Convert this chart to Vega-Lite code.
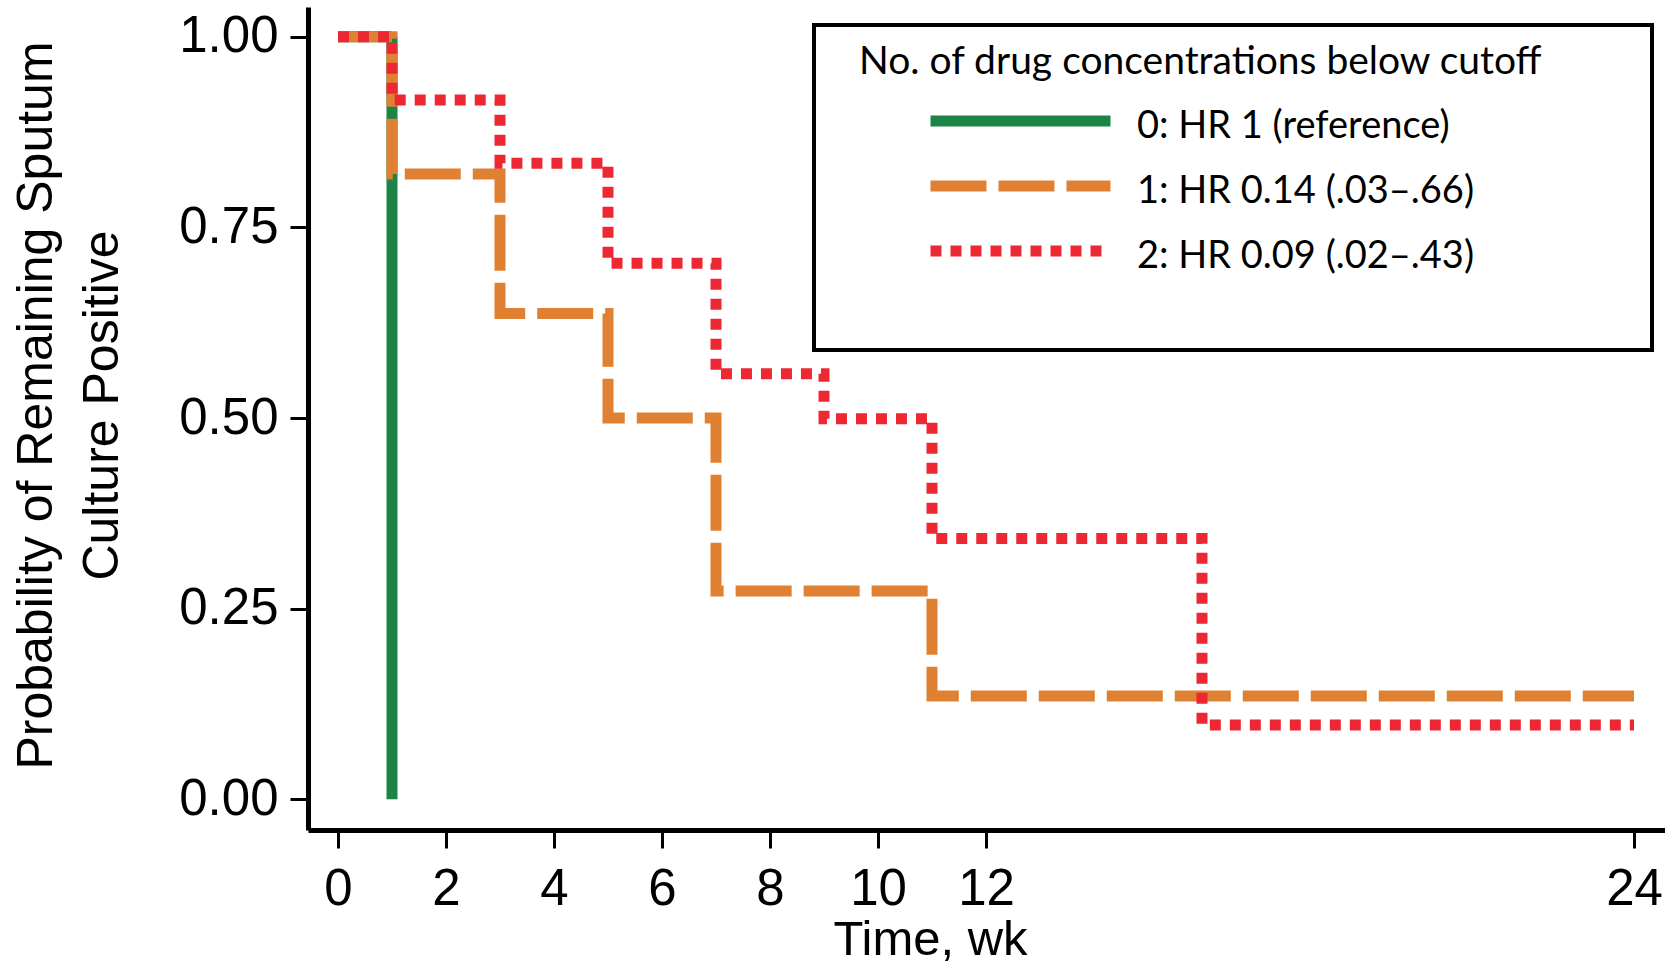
{
  "$schema": "https://vega.github.io/schema/vega-lite/v6.json",
  "width": 1357,
  "height": 823,
  "autosize": {"type": "none"},
  "padding": {"left": 308, "top": 7, "right": 0, "bottom": 134},
  "background": "white",
  "config": {"view": {"stroke": null}, "font": "Liberation Sans"},
  "data": {
    "values": [
      {"group": "0: HR 1 (reference)", "week": 0, "prob": 1},
      {"group": "0: HR 1 (reference)", "week": 1, "prob": 0},
      {"group": "1: HR 0.14 (.03–.66)", "week": 0, "prob": 1},
      {"group": "1: HR 0.14 (.03–.66)", "week": 1, "prob": 0.82},
      {"group": "1: HR 0.14 (.03–.66)", "week": 3, "prob": 0.637},
      {"group": "1: HR 0.14 (.03–.66)", "week": 5, "prob": 0.5},
      {"group": "1: HR 0.14 (.03–.66)", "week": 7, "prob": 0.273},
      {"group": "1: HR 0.14 (.03–.66)", "week": 11, "prob": 0.1355},
      {"group": "1: HR 0.14 (.03–.66)", "week": 24, "prob": 0.1355},
      {"group": "2: HR 0.09 (.02–.43)", "week": 0, "prob": 1},
      {"group": "2: HR 0.09 (.02–.43)", "week": 1, "prob": 0.917},
      {"group": "2: HR 0.09 (.02–.43)", "week": 3, "prob": 0.834},
      {"group": "2: HR 0.09 (.02–.43)", "week": 5, "prob": 0.703},
      {"group": "2: HR 0.09 (.02–.43)", "week": 7, "prob": 0.558},
      {"group": "2: HR 0.09 (.02–.43)", "week": 9, "prob": 0.499},
      {"group": "2: HR 0.09 (.02–.43)", "week": 11, "prob": 0.342},
      {"group": "2: HR 0.09 (.02–.43)", "week": 16, "prob": 0.0975},
      {"group": "2: HR 0.09 (.02–.43)", "week": 24, "prob": 0.0975}
    ]
  },
  "mark": {"type": "line", "interpolate": "step-after", "strokeWidth": 11, "clip": false},
  "encoding": {
    "x": {
      "field": "week",
      "type": "quantitative",
      "scale": {"domain": [-0.5556, 24.574], "nice": false, "zero": false},
      "axis": {
        "values": [0, 2, 4, 6, 8, 10, 12, 24],
        "format": "d",
        "grid": false,
        "labelFont": "Liberation Sans",
        "labelFontSize": 51,
        "labelColor": "black",
        "labelPadding": 16,
        "labelFlush": false,
        "labelOverlap": false,
        "tickColor": "black",
        "tickSize": 18,
        "tickWidth": 3,
        "domainColor": "black",
        "domainWidth": 5,
        "title": "Time, wk",
        "titleFont": "Liberation Sans",
        "titleFontSize": 49,
        "titleFontWeight": "normal",
        "titleColor": "black",
        "titleX": 622,
        "titleY": 124,
        "titleAlign": "center",
        "titleBaseline": "alphabetic"
      }
    },
    "y": {
      "field": "prob",
      "type": "quantitative",
      "scale": {"domain": [-0.0403, 1.039], "nice": false, "zero": false},
      "axis": {
        "values": [0, 0.25, 0.5, 0.75, 1],
        "format": ".2f",
        "grid": false,
        "labelFont": "Liberation Sans",
        "labelFontSize": 51,
        "labelColor": "black",
        "labelPadding": 12,
        "labelFlush": false,
        "labelOverlap": false,
        "tickColor": "black",
        "tickSize": 18,
        "tickWidth": 3,
        "domainColor": "black",
        "domainWidth": 5,
        "title": ["Probability of Remaining Sputum", "Culture Positive"],
        "titleFont": "Liberation Sans",
        "titleFontSize": 50,
        "titleFontWeight": "normal",
        "titleColor": "black",
        "titleLineHeight": 66,
        "titleAngle": 270,
        "titleX": -257,
        "titleY": 398,
        "titleAlign": "center",
        "titleBaseline": "alphabetic"
      }
    },
    "color": {
      "field": "group",
      "type": "nominal",
      "scale": {"range": ["#1b8446", "#e08033", "#ee2833"]},
      "legend": {
        "title": "No. of drug concentrations below cutoff",
        "orient": "none",
        "legendX": 506,
        "legendY": 18,
        "padding": 21,
        "fillColor": "white",
        "strokeColor": "black",
        "titleFont": "Lato",
        "titleFontSize": 39,
        "titleFontWeight": "normal",
        "titleColor": "black",
        "titleLimit": 1000,
        "titlePadding": 23,
        "labelFont": "Lato",
        "labelFontSize": 38,
        "labelColor": "black",
        "labelLimit": 1000,
        "labelOffset": 21,
        "labelBaseline": "top",
        "labelExpr": "indexof(datum.label, '2:') === 0 ? [datum.label, '\u2800' + pad('', 45) + '\u2800'] : datum.label",
        "symbolOffset": 90,
        "symbolType": "stroke",
        "symbolSize": 32400,
        "symbolStrokeWidth": 11,
        "rowPadding": 18,
        "encode": {
          "legend": {"update": {"strokeWidth": {"value": 4}}},
          "title": {"update": {"dy": {"value": -3}, "dx": {"value": 24}}},
          "symbols": {"update": {"y": {"value": 13}}},
          "labels": {"update": {"y": {"value": 0}, "lineHeight": {"value": 53}}}
        }
      }
    },
    "strokeDash": {
      "field": "group",
      "type": "nominal",
      "scale": {"range": [[1, 0], [56, 12], [11, 9]]},
      "legend": {
        "title": "No. of drug concentrations below cutoff",
        "orient": "none",
        "legendX": 506,
        "legendY": 18
      }
    }
  }
}
